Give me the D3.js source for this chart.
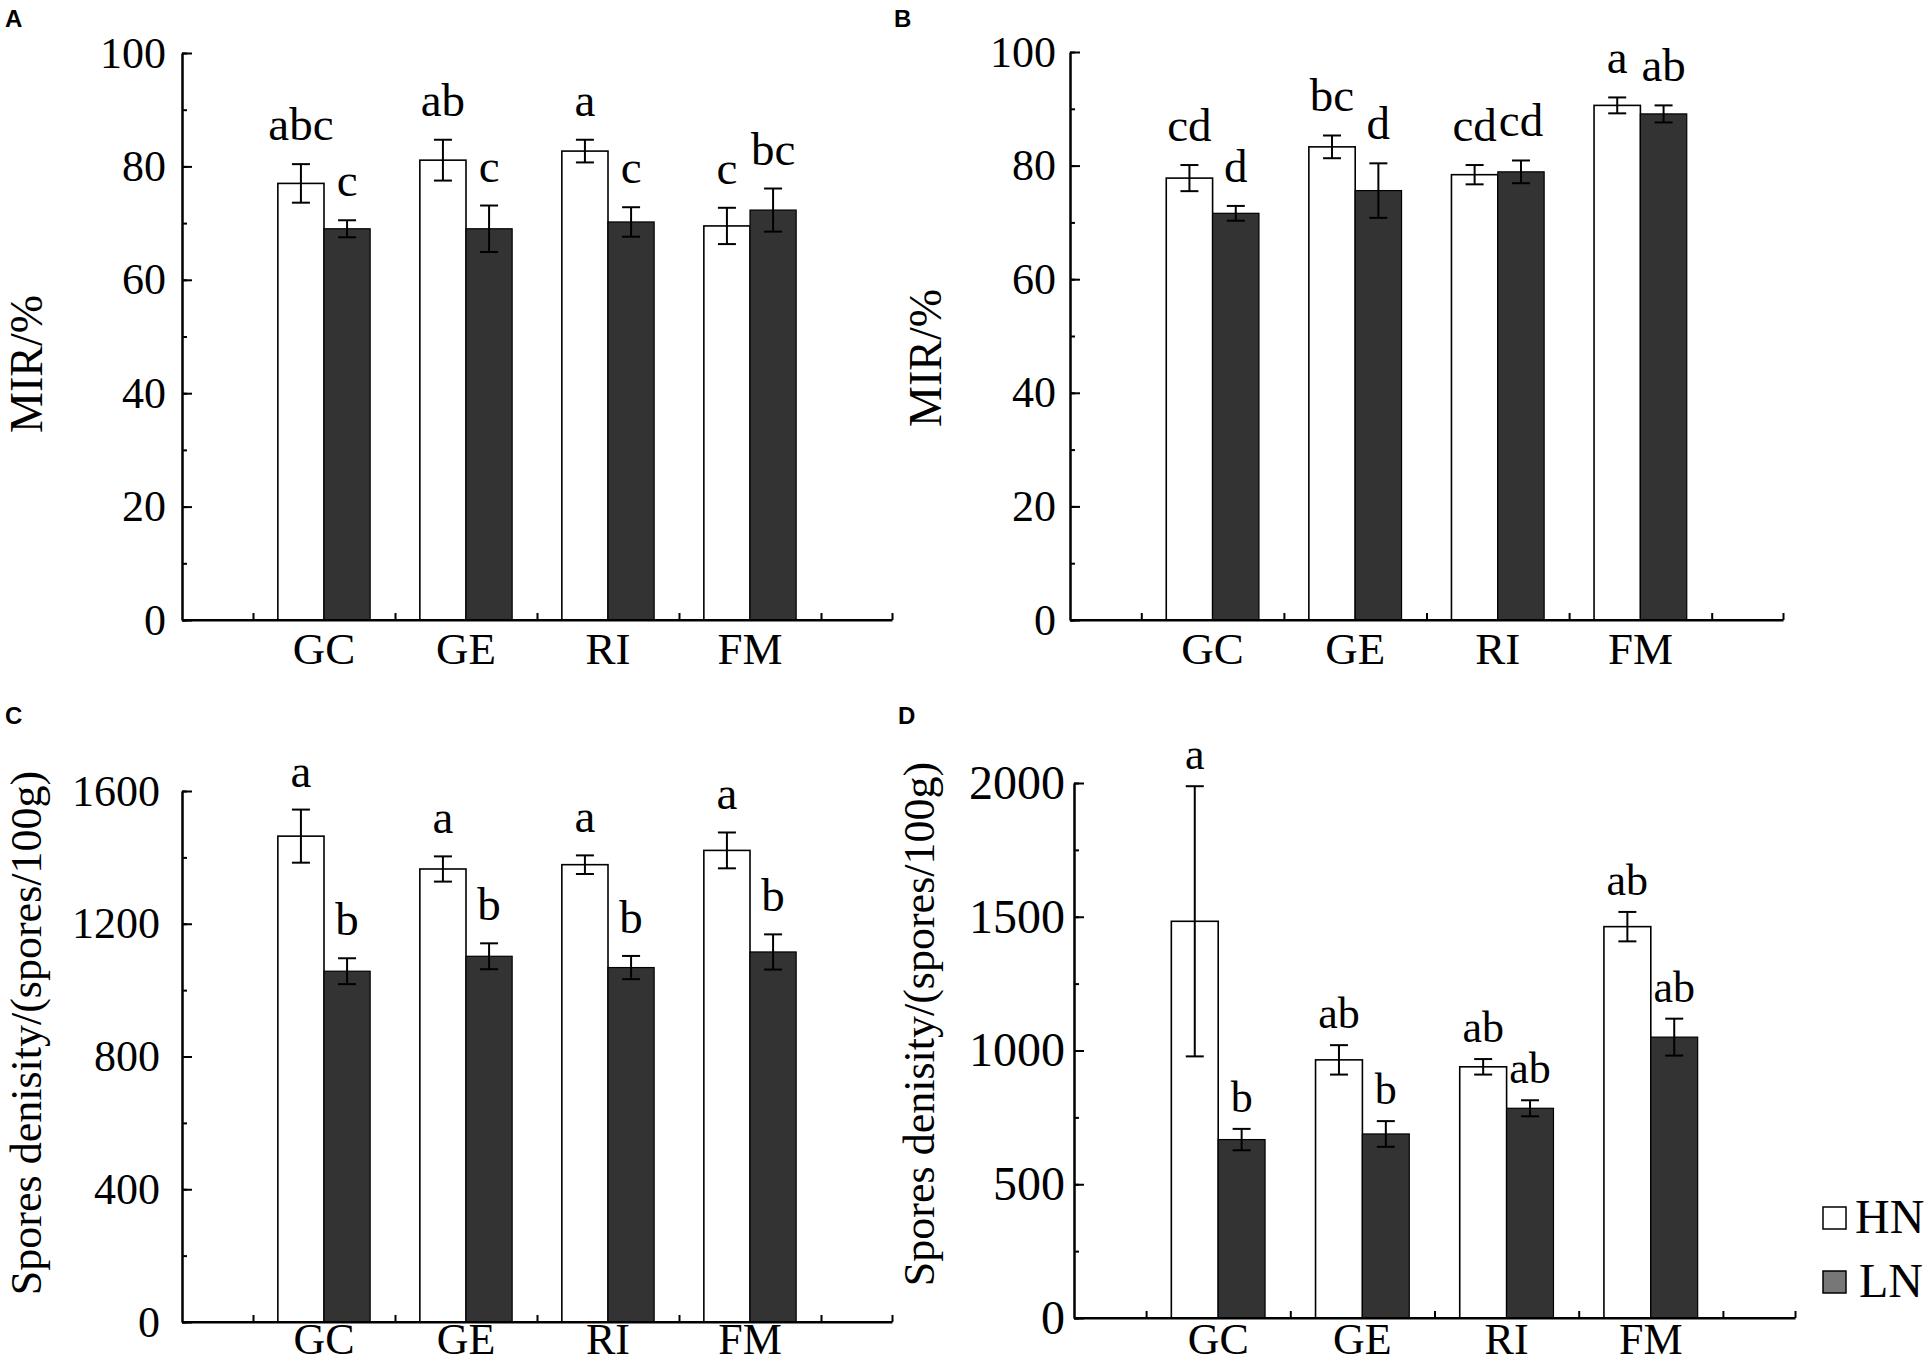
<!DOCTYPE html>
<html>
<head>
<meta charset="utf-8">
<script src="https://cdn.jsdelivr.net/npm/d3@7"></script>
<style>
  body { margin: 0; background: #fff; }
  svg text { font-family: "Liberation Serif", "Times New Roman", serif; }
</style>
</head>
<body>
<script>
// ---- data ----
const categories = ["GC", "GE", "RI", "FM"];
const groups = ["HN", "LN"];

// A: MIR (%)
const mirA_HN = [77.0, 81.1, 82.7, 69.5];
const mirA_HN_err = [3.4, 3.6, 2.0, 3.2];
const mirA_LN = [69.0, 69.0, 70.2, 72.3];
const mirA_LN_err = [1.5, 4.1, 2.6, 3.8];
const lettersA_HN = ["abc", "ab", "a", "c"];
const lettersA_LN = ["c", "c", "c", "bc"];

// B: MIR (%)
const mirB_HN = [77.8, 83.3, 78.4, 90.6];
const mirB_HN_err = [2.3, 2.0, 1.7, 1.4];
const mirB_LN = [71.6, 75.6, 78.9, 89.1];
const mirB_LN_err = [1.3, 4.8, 2.0, 1.5];
const lettersB_HN = ["cd", "bc", "cd", "a"];
const lettersB_LN = ["d", "d", "cd", "ab"];

// C: spore density
const sporeC_HN = [1464, 1365, 1378, 1421];
const sporeC_HN_err = [80, 38, 28, 54];
const sporeC_LN = [1057, 1102, 1068, 1115];
const sporeC_LN_err = [39, 39, 35, 53];
const lettersC_HN = ["a", "a", "a", "a"];
const lettersC_LN = ["b", "b", "b", "b"];

// D: spore density
const sporeD_HN = [1483, 965, 939, 1463];
const sporeD_HN_err = [505, 55, 29, 55];
const sporeD_LN = [667, 688, 784, 1050];
const sporeD_LN_err = [40, 48, 30, 69];
const lettersD_HN = ["a", "ab", "ab", "ab"];
const lettersD_LN = ["b", "b", "ab", "ab"];

const ticksMIR = [0, 20, 40, 60, 80, 100];
const ticksC = [0, 400, 800, 1200, 1600];
const ticksD = [0, 500, 1000, 1500, 2000];

const titleMIR = "MIR/%";
const titleSpore = "Spores denisity/(spores/100g)";

const W = 1932, H = 1364;
const fillHN = "#ffffff", fillLN = "#333333", fillLNlegend = "#777777";

const svg = d3.select("body").append("svg")
    .attr("width", W)
    .attr("height", H)
    .attr("viewBox", [0, 0, W, H]);

function panel({
    tag, tagX, tagY,
    hn, hnErr, ln, lnErr, hnLet, lnLet,
    ticks, minorStep,
    x0, x1, yTop, yBot,
    tickFont = 44, tickGap = 16,
    title, titleX, titleY, titleFont = 46,
    catBase, catFont = 45, letFont = 47, letGap = 24
}) {
    const g = svg.append("g");
    const yMax = ticks[ticks.length - 1];
    const x = d3.scaleLinear().domain([0, 5]).range([x0, x1]);
    const y = d3.scaleLinear().domain([0, yMax]).range([yBot, yTop]);
    const bw = 0.325;

    // panel tag
    g.append("text")
        .attr("x", tagX).attr("y", tagY)
        .style("font-family", "'Liberation Sans', Arial, sans-serif")
        .style("font-weight", "bold")
        .style("font-size", "24px")
        .text(tag);

    // x axis ticks (drawn under the bars)
    const xAxis = g.append("g")
        .attr("transform", `translate(0,${yBot})`)
        .call(d3.axisBottom(x)
            .tickValues(d3.range(0.5, 5.01, 0.5))
            .tickSizeInner(-7)
            .tickSizeOuter(0)
            .tickFormat(""));
    xAxis.selectAll("path, line").attr("stroke", "#000").attr("stroke-width", 2);

    // two bars per category
    const bars = [];
    categories.forEach((c, i) => {
        bars.push({k: "HN", xc: i + 1 - bw / 2, v: hn[i], e: hnErr[i], t: hnLet[i]});
        bars.push({k: "LN", xc: i + 1 + bw / 2, v: ln[i], e: lnErr[i], t: lnLet[i]});
    });

    g.append("g").selectAll("rect")
        .data(bars)
        .join("rect")
        .attr("x", d => x(d.xc - bw / 2))
        .attr("width", d => x(d.xc + bw / 2) - x(d.xc - bw / 2))
        .attr("y", d => y(d.v))
        .attr("height", d => y(0) - y(d.v))
        .attr("fill", d => d.k === "HN" ? fillHN : fillLN)
        .attr("stroke", "#000")
        .attr("stroke-width", d => d.k === "HN" ? 1.6 : 1.2);

    // error bars
    const eb = g.append("g").attr("stroke", "#000").attr("stroke-width", 2);
    eb.selectAll("line.v").data(bars).join("line").attr("class", "v")
        .attr("x1", d => x(d.xc)).attr("x2", d => x(d.xc))
        .attr("y1", d => y(d.v + d.e)).attr("y2", d => y(d.v - d.e));
    eb.selectAll("line.t").data(bars).join("line").attr("class", "t")
        .attr("x1", d => x(d.xc) - 9).attr("x2", d => x(d.xc) + 9)
        .attr("y1", d => y(d.v + d.e)).attr("y2", d => y(d.v + d.e));
    eb.selectAll("line.b").data(bars).join("line").attr("class", "b")
        .attr("x1", d => x(d.xc) - 9).attr("x2", d => x(d.xc) + 9)
        .attr("y1", d => y(d.v - d.e)).attr("y2", d => y(d.v - d.e));

    // significance letters
    g.append("g").selectAll("text")
        .data(bars)
        .join("text")
        .attr("x", d => x(d.xc))
        .attr("y", d => y(d.v + d.e) - letGap)
        .attr("text-anchor", "middle")
        .style("font-size", letFont + "px")
        .text(d => d.t);

    // x axis line over bar bottoms
    g.append("line")
        .attr("x1", x0).attr("x2", x1).attr("y1", yBot).attr("y2", yBot)
        .attr("stroke", "#000").attr("stroke-width", 2);

    // category labels
    g.append("g").selectAll("text")
        .data(categories)
        .join("text")
        .attr("x", (d, i) => x(i + 1))
        .attr("y", catBase)
        .attr("text-anchor", "middle")
        .style("font-size", catFont + "px")
        .text(d => d);

    // y axis: minor then major
    const minor = g.append("g")
        .attr("transform", `translate(${x0},0)`)
        .call(d3.axisLeft(y)
            .tickValues(d3.range(0, yMax + 0.001, minorStep))
            .tickSizeInner(-5)
            .tickSizeOuter(0)
            .tickFormat(""));
    minor.selectAll("path, line").attr("stroke", "#000").attr("stroke-width", 2);

    const major = g.append("g")
        .attr("transform", `translate(${x0},0)`)
        .call(d3.axisLeft(y)
            .tickValues(ticks)
            .tickSizeInner(-10)
            .tickSizeOuter(0)
            .tickPadding(tickGap)
            .tickFormat(d3.format("d")));
    major.selectAll("path, line").attr("stroke", "#000").attr("stroke-width", 2);
    major.selectAll("text")
        .attr("fill", "#000")
        .style("font-family", "'Liberation Serif', 'Times New Roman', serif")
        .style("font-size", tickFont + "px");

    // y title
    g.append("text")
        .attr("transform", `translate(${titleX},${titleY}) rotate(-90)`)
        .attr("text-anchor", "middle")
        .style("font-size", titleFont + "px")
        .text(title);
}

panel({
    tag: "A", tagX: 5, tagY: 27,
    hn: mirA_HN, hnErr: mirA_HN_err, ln: mirA_LN, lnErr: mirA_LN_err,
    hnLet: lettersA_HN, lnLet: lettersA_LN,
    ticks: ticksMIR, minorStep: 10,
    x0: 182, x1: 892, yTop: 53, yBot: 620,
    tickGap: 16,
    title: titleMIR, titleX: 42, titleY: 364,
    catBase: 664
});

panel({
    tag: "B", tagX: 894, tagY: 27,
    hn: mirB_HN, hnErr: mirB_HN_err, ln: mirB_LN, lnErr: mirB_LN_err,
    hnLet: lettersB_HN, lnLet: lettersB_LN,
    ticks: ticksMIR, minorStep: 10,
    x0: 1070, x1: 1783, yTop: 52, yBot: 620,
    tickGap: 14,
    title: titleMIR, titleX: 941, titleY: 358,
    catBase: 664
});

panel({
    tag: "C", tagX: 5, tagY: 724,
    hn: sporeC_HN, hnErr: sporeC_HN_err, ln: sporeC_LN, lnErr: sporeC_LN_err,
    hnLet: lettersC_HN, lnLet: lettersC_LN,
    ticks: ticksC, minorStep: 200,
    x0: 182, x1: 892, yTop: 791, yBot: 1322,
    tickGap: 22,
    title: titleSpore, titleX: 41, titleY: 1033, titleFont: 44,
    catBase: 1354, catFont: 44, letGap: 23
});

panel({
    tag: "D", tagX: 898, tagY: 724,
    hn: sporeD_HN, hnErr: sporeD_HN_err, ln: sporeD_LN, lnErr: sporeD_LN_err,
    hnLet: lettersD_HN, lnLet: lettersD_LN,
    ticks: ticksD, minorStep: 250,
    x0: 1074, x1: 1795, yTop: 783, yBot: 1318,
    tickFont: 48, tickGap: 9,
    title: titleSpore, titleX: 934, titleY: 1024, titleFont: 44,
    catBase: 1354, catFont: 44, letFont: 44, letGap: 17
});

// legend
const legend = svg.append("g");
const legendRows = groups.map((k, i) => ({k, i}));
legend.selectAll("rect")
    .data(legendRows)
    .join("rect")
    .attr("x", 1823)
    .attr("y", d => 1207 + d.i * 64)
    .attr("width", 23)
    .attr("height", 22)
    .attr("fill", d => d.k === "HN" ? fillHN : fillLNlegend)
    .attr("stroke", "#000")
    .attr("stroke-width", 1.5);
legend.selectAll("text")
    .data(legendRows)
    .join("text")
    .attr("x", d => d.k === "HN" ? 1855 : 1859)
    .attr("y", d => 1233 + d.i * 64)
    .style("font-size", "48px")
    .text(d => d.k);
</script>
</body>
</html>
